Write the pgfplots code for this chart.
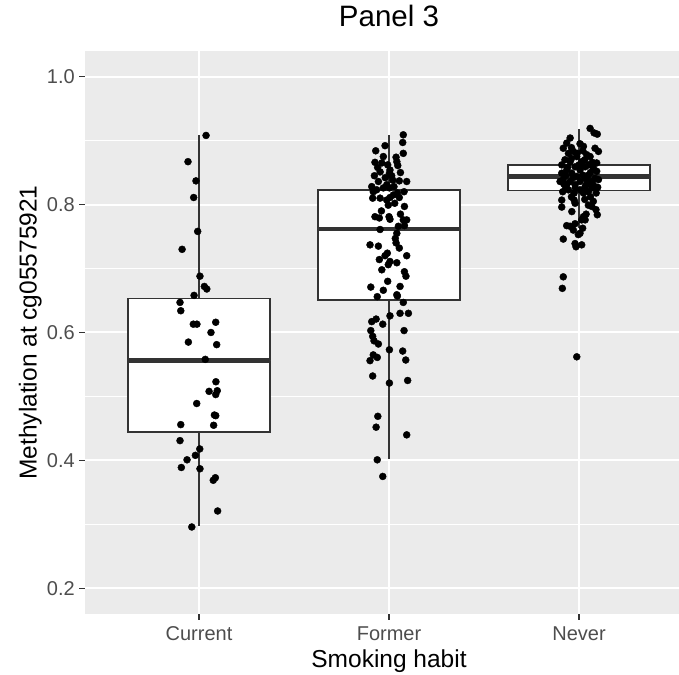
\documentclass[border=0pt]{standalone}
\usepackage{fontspec}
\setmainfont{Liberation Sans}
\usepackage{pgfplots}
\usepackage{pgfplotstable}
\pgfplotsset{compat=1.18}
\usepgfplotslibrary{statistics}
\definecolor{panelbg}{HTML}{EBEBEB}
\definecolor{gray20}{HTML}{333333}
\definecolor{gray30}{HTML}{4D4D4D}

% jittered observations, one table per smoking group
\pgfplotstableread{
x y
1.037 0.908
0.942 0.867
0.984 0.837
0.972 0.811
0.993 0.758
0.911 0.730
1.005 0.688
1.028 0.672
1.041 0.668
0.974 0.658
0.900 0.647
0.904 0.634
0.970 0.613
0.989 0.613
1.088 0.616
1.063 0.600
0.944 0.585
1.093 0.581
1.033 0.558
1.089 0.523
1.053 0.508
1.096 0.509
1.088 0.503
0.988 0.489
1.081 0.471
1.088 0.470
0.904 0.456
1.077 0.455
0.900 0.431
1.004 0.418
0.981 0.408
0.937 0.401
0.907 0.389
1.005 0.387
1.086 0.373
1.075 0.369
1.098 0.321
0.962 0.296
}\current

\pgfplotstableread{
x y
2.075 0.909
2.072 0.897
1.979 0.892
1.930 0.884
2.075 0.880
2.037 0.874
1.926 0.866
2.041 0.867
1.962 0.865
1.993 0.862
2.046 0.861
2.005 0.854
1.953 0.851
1.923 0.845
2.014 0.845
2.002 0.849
2.054 0.837
2.093 0.836
1.944 0.836
1.909 0.828
1.988 0.831
2.026 0.828
1.935 0.823
1.970 0.826
2.002 0.826
2.079 0.820
1.917 0.820
2.044 0.818
1.914 0.810
1.953 0.810
1.988 0.807
2.005 0.811
2.054 0.811
2.023 0.815
1.996 0.799
2.081 0.797
1.926 0.781
1.949 0.779
2.000 0.781
2.005 0.777
2.075 0.776
2.093 0.776
2.081 0.767
2.049 0.766
1.953 0.761
2.041 0.755
2.033 0.747
2.037 0.740
1.900 0.737
1.944 0.735
2.054 0.732
1.991 0.724
2.093 0.720
1.979 0.720
1.949 0.714
2.005 0.711
2.041 0.709
1.996 0.706
1.962 0.698
2.081 0.695
2.089 0.688
1.993 0.680
1.904 0.671
2.058 0.672
1.970 0.666
1.938 0.656
2.041 0.659
2.044 0.657
2.075 0.647
2.005 0.626
2.058 0.630
2.102 0.630
1.932 0.621
1.909 0.617
1.967 0.613
1.904 0.603
2.079 0.603
1.914 0.594
1.921 0.587
1.944 0.582
2.002 0.573
2.072 0.571
1.917 0.565
1.938 0.561
1.900 0.556
2.088 0.557
1.914 0.532
2.002 0.521
2.098 0.525
1.941 0.469
1.932 0.452
2.093 0.440
1.938 0.401
1.967 0.375
1.970 0.875
2.020 0.838
1.940 0.858
2.060 0.850
1.980 0.842
2.030 0.802
1.960 0.790
2.060 0.785
}\former

\pgfplotstableread{
x y
3.058 0.919
3.079 0.912
3.096 0.910
2.953 0.904
2.935 0.896
3.005 0.895
2.917 0.888
3.023 0.891
3.084 0.888
3.102 0.883
2.944 0.880
2.970 0.883
3.040 0.878
2.988 0.875
3.058 0.875
2.926 0.870
2.953 0.867
3.014 0.867
3.093 0.865
2.909 0.862
2.979 0.859
3.032 0.859
3.075 0.857
2.935 0.854
3.005 0.854
3.093 0.852
2.909 0.849
2.962 0.849
3.049 0.846
2.988 0.844
3.032 0.841
3.084 0.841
2.917 0.839
2.953 0.836
3.005 0.836
3.058 0.836
3.102 0.839
2.900 0.836
2.935 0.831
2.979 0.831
3.032 0.828
3.084 0.828
2.944 0.823
3.005 0.823
3.049 0.820
2.914 0.820
3.098 0.827
3.067 0.826
2.974 0.818
3.023 0.818
2.909 0.807
2.974 0.807
3.075 0.805
2.909 0.796
2.979 0.802
3.049 0.799
2.962 0.789
3.089 0.792
3.067 0.797
3.096 0.784
3.037 0.785
3.023 0.781
3.032 0.776
3.014 0.776
2.935 0.767
2.953 0.766
2.979 0.770
3.019 0.763
2.970 0.760
2.996 0.753
3.005 0.755
2.917 0.746
2.979 0.739
3.014 0.737
2.984 0.734
2.917 0.687
2.912 0.669
2.988 0.562
2.960 0.872
3.030 0.870
3.070 0.866
2.940 0.858
3.000 0.862
3.060 0.850
2.970 0.842
3.020 0.846
2.930 0.845
3.070 0.834
2.980 0.826
3.040 0.832
2.930 0.826
3.090 0.818
2.960 0.812
3.030 0.808
3.060 0.812
2.990 0.880
3.020 0.884
2.960 0.889
3.050 0.862
2.920 0.832
}\never

\begin{document}
\begin{tikzpicture}
\useasboundingbox (-85pt,-60pt) rectangle (594pt,614pt);
\begin{axis}[
    at={(0pt,0pt)}, anchor=south west,
    scale only axis, width=594pt, height=563pt,
    xmin=0.4, xmax=3.526, ymin=0.16, ymax=1.04,
    axis background/.style={fill=panelbg},
    axis line style={draw=none},
    xtick={1,2,3}, xticklabels={Current,Former,Never},
    ytick={0.2,0.4,0.6,0.8,1.0}, yticklabels={0.2,0.4,0.6,0.8,1.0},
    minor ytick={0.3,0.5,0.7,0.9},
    grid=both,
    major grid style={white, line width=2pt},
    minor grid style={white, line width=1pt},
    tick pos=left, tick align=outside,
    major tick length=5.5pt, minor tick length=0pt,
    tick style={gray20, line width=1.3pt},
    ticklabel style={font=\fontsize{20}{24}\selectfont, text=gray30},
    xticklabel style={anchor=north, inner sep=0pt, yshift=-7.2pt},
    yticklabel style={anchor=east, inner sep=0pt, xshift=-4.5pt},
    title={Panel 3},
    title style={font=\fontsize{29.5}{34}\selectfont, at={(axis description cs:0.5118,1)}, anchor=base, yshift=18pt},
    xlabel={Smoking habit},
    xlabel style={font=\fontsize{24.5}{29}\selectfont, at={(axis description cs:0.5118,0)}, anchor=base, yshift=-53pt},
    ylabel={Methylation at cg05575921},
    ylabel style={font=\fontsize{24.5}{29}\selectfont, at={(axis description cs:-0.0816,0.5)}, anchor=base},
    boxplot/draw direction=y,
    boxplot/box extend=0.75,
    boxplot/whisker extend=0,
    boxplot/every median/.style={line width=4.5pt},
]
\addplot[draw=gray20, fill=white, line width=1.8pt, boxplot prepared={
    lower whisker=0.297, lower quartile=0.444, median=0.556,
    upper quartile=0.653, upper whisker=0.908, draw position=1}] coordinates {};
\addplot[draw=gray20, fill=white, line width=1.8pt, boxplot prepared={
    lower whisker=0.402, lower quartile=0.651, median=0.762,
    upper quartile=0.823, upper whisker=0.909, draw position=2}] coordinates {};
\addplot[draw=gray20, fill=white, line width=1.8pt, boxplot prepared={
    lower whisker=0.764, lower quartile=0.822, median=0.844,
    upper quartile=0.862, upper whisker=0.918, draw position=3}] coordinates {};

\addplot[only marks, mark=*, mark size=3.5pt, black] table {\current};
\addplot[only marks, mark=*, mark size=3.5pt, black] table {\former};
\addplot[only marks, mark=*, mark size=3.5pt, black] table {\never};
\end{axis}
\end{tikzpicture}
\end{document}
